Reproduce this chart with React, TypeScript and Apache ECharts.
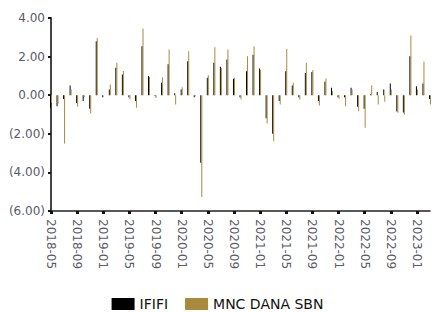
import { useEffect, useRef } from 'react';
import * as echarts from 'echarts';

const months = [
  '2018-05','2018-06','2018-07','2018-08','2018-09','2018-10','2018-11','2018-12',
  '2019-01','2019-02','2019-03','2019-04','2019-05','2019-06','2019-07','2019-08',
  '2019-09','2019-10','2019-11','2019-12','2020-01','2020-02','2020-03','2020-04',
  '2020-05','2020-06','2020-07','2020-08','2020-09','2020-10','2020-11','2020-12',
  '2021-01','2021-02','2021-03','2021-04','2021-05','2021-06','2021-07','2021-08',
  '2021-09','2021-10','2021-11','2021-12','2022-01','2022-02','2022-03','2022-04',
  '2022-05','2022-06','2022-07','2022-08','2022-09','2022-10','2022-11','2022-12',
  '2023-01','2023-02','2023-03',
];

const ififi = [
  -0.65, -0.57, -0.2, 0.5, -0.4, -0.3, -0.7, 2.8, -0.1, 0.3, 1.42, 1.07,
  -0.1, -0.3, 2.54, 1.0, -0.05, 0.65, 1.6, 0.1, 0.3, 1.76, -0.1, -3.5,
  0.9, 1.68, 1.47, 1.85, 0.85, -0.1, 1.24, 2.1, 1.38, -1.2, -2.0, -0.3,
  1.24, 0.5, -0.1, 1.15, 1.2, -0.3, 0.7, 0.38, -0.1, -0.1, 0.38, -0.6,
  -0.7, 0.05, 0.17, 0.3, 0.6, -0.85, -0.9, 2.02, 0.47, 0.6, -0.2,
];

const mncDanaSbn = [
  -0.4, -0.45, -2.5, 0.3, -0.6, -0.1, -0.95, 2.97, 0.0, 0.55, 1.68, 1.25,
  -0.22, -0.65, 3.45, 0.95, -0.14, 0.93, 2.37, -0.48, 0.41, 2.28, -0.05, -5.27,
  1.04, 2.49, 1.4, 2.37, 0.9, -0.22, 2.02, 2.54, 1.3, -1.47, -2.38, -0.48,
  2.4, 0.64, -0.22, 1.68, 1.3, -0.54, 0.86, 0.2, -0.19, -0.57, 0.3, -0.83,
  -1.69, 0.52, -0.48, -0.34, 0.3, -0.91, -1.0, 3.09, 0.3, 1.73, -0.48,
];

const yMin = -6;
const yMax = 4;
const yStep = 2;

const FONT = 'DejaVu Sans';

export default function App() {
  const ref = useRef<HTMLDivElement>(null);
  useEffect(() => {
    if (!ref.current) return;
    const chart = echarts.init(ref.current, undefined, { renderer: 'svg' });
    chart.setOption({
      animation: false,
      grid: { left: 51, right: 5, top: 18, bottom: 101, containLabel: false },
      legend: {
        left: 'center',
        top: 292,
        itemWidth: 23,
        itemHeight: 12,
        itemGap: 17,
        icon: 'rect',
        textStyle: { fontFamily: FONT, fontSize: 14, color: '#111' },
        data: ['IFIFI', 'MNC DANA SBN'],
      },
      xAxis: {
        type: 'category',
        data: months,
        boundaryGap: false,
        axisLine: { onZero: false, lineStyle: { color: '#222', width: 1.5 } },
        axisTick: { interval: 3, length: 3, lineStyle: { color: '#111', width: 3 } },
        axisLabel: {
          interval: 3,
          rotate: -90,
          margin: 8,
          fontFamily: FONT,
          fontSize: 12,
          color: '#5b5b66',
        },
        splitLine: { show: false },
      },
      yAxis: {
        type: 'value',
        min: yMin,
        max: yMax,
        interval: yStep,
        axisLine: { show: true, lineStyle: { color: '#444', width: 2 } },
        axisTick: { show: true, length: 3, lineStyle: { color: '#111', width: 2 } },
        axisLabel: {
          margin: 6,
          fontFamily: FONT,
          fontSize: 12,
          color: '#5b5b66',
          formatter: (v: number) => (v < 0 ? `(${Math.abs(v).toFixed(2)})` : v.toFixed(2)),
        },
        splitLine: { show: false },
      },
      series: [
        {
          name: 'IFIFI',
          type: 'bar',
          data: ififi,
          barWidth: 1,
          barGap: '0%',
          itemStyle: { color: '#000000' },
        },
        {
          name: 'MNC DANA SBN',
          type: 'bar',
          data: mncDanaSbn,
          barWidth: 1,
          barGap: '0%',
          itemStyle: { color: '#a98a3c' },
        },
      ],
    });
    return () => chart.dispose();
  }, []);
  return (
    <div
      ref={ref}
      style={{ position: 'fixed', left: 0, top: 0, width: 435, height: 312, background: '#fff' }}
    />
  );
}
